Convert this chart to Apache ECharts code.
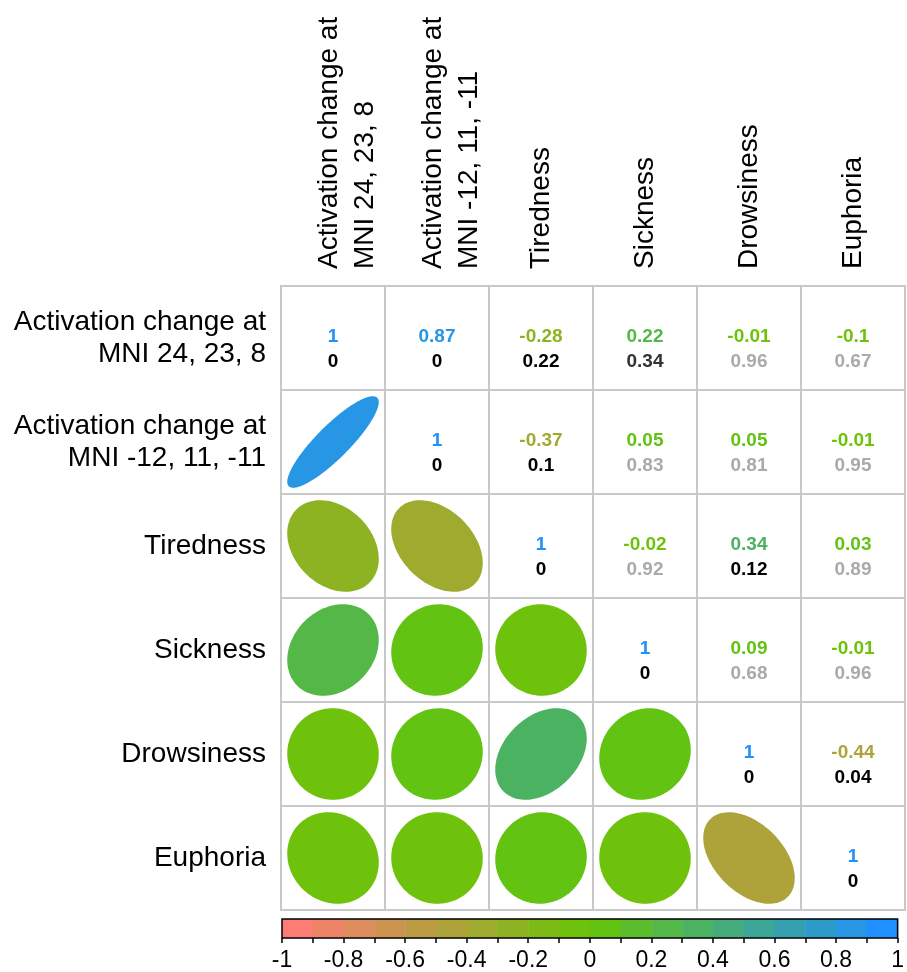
<!DOCTYPE html>
<html><head><meta charset="utf-8">
<script src="https://cdn.jsdelivr.net/npm/echarts@6/dist/echarts.min.js"></script>
<style>html,body{margin:0;padding:0;background:#fff}#c{width:907px;height:972px}</style>
</head><body><div id="c"></div><script>
const variables = ['Activation change at\nMNI 24, 23, 8', 'Activation change at\nMNI -12, 11, -11', 'Tiredness', 'Sickness', 'Drowsiness', 'Euphoria'];
// correlation coefficients, one row per variable
const corrAct1       = [1, 0.87, -0.28, 0.22, -0.01, -0.1];
const corrAct2       = [0.87, 1, -0.37, 0.05, 0.05, -0.01];
const corrTiredness  = [-0.28, -0.37, 1, -0.02, 0.34, 0.03];
const corrSickness   = [0.22, 0.05, -0.02, 1, 0.09, -0.01];
const corrDrowsiness = [-0.01, 0.05, 0.34, 0.09, 1, -0.44];
const corrEuphoria   = [-0.1, -0.01, 0.03, -0.01, -0.44, 1];
// p-values, one row per variable
const pAct1       = [0, 0, 0.22, 0.34, 0.96, 0.67];
const pAct2       = [0, 0, 0.1, 0.83, 0.81, 0.95];
const pTiredness  = [0.22, 0.1, 0, 0.92, 0.12, 0.89];
const pSickness   = [0.34, 0.83, 0.92, 0, 0.68, 0.96];
const pDrowsiness = [0.96, 0.81, 0.12, 0.68, 0, 0.04];
const pEuphoria   = [0.67, 0.95, 0.89, 0.96, 0.04, 0];
// colour bar
const colorbarBins = [-1, -0.9, -0.8, -0.7, -0.6, -0.5, -0.4, -0.3, -0.2, -0.1, 0, 0.1, 0.2, 0.3, 0.4, 0.5, 0.6, 0.7, 0.8, 0.9];
const colorbarTickLabels = ['-1', '-0.8', '-0.6', '-0.4', '-0.2', '0', '0.2', '0.4', '0.6', '0.8', '1'];

const corr = [corrAct1, corrAct2, corrTiredness, corrSickness, corrDrowsiness, corrEuphoria];
const pval = [pAct1, pAct2, pTiredness, pSickness, pDrowsiness, pEuphoria];

// palette: red -> green -> blue, 20 discrete colours (one per colour-bar bin)
const cNeg = [253, 124, 116], cZero = [102, 198, 5], cPos = [30, 144, 255];
function ramp(u) {
  const a = u < 0.5 ? cNeg : cPos, t = Math.abs(u - 0.5) / 0.5;
  const c = [0, 1, 2].map(k => Math.round(cZero[k] + (a[k] - cZero[k]) * t));
  return 'rgb(' + c.join(',') + ')';
}
const NBIN = colorbarBins.length;
function binOf(r) {
  return Math.max(0, Math.min(NBIN - 1, Math.floor((r + 1) / 2 * NBIN + 1e-9)));
}
function corrColor(r) { return ramp(binOf(r) / (NBIN - 1)); }
function pColor(p) {
  if (p < 0.3) return '#000';
  if (p < 0.5) return '#333';
  return '#aaa';
}

const cells = [];
for (let j = 0; j < variables.length; j++)
  for (let i = 0; i < variables.length; i++) cells.push([i, j]);

const FONT = '"Liberation Sans", Arial, sans-serif';

function renderCell(params, api) {
  const i = api.value(0), j = api.value(1);
  const c = api.coord([i, j]);
  const s = api.size([1, 1]);
  const w = s[0], h = s[1];
  const children = [{
    type: 'rect', z2: 1,
    shape: { x: c[0] - w / 2, y: c[1] - h / 2, width: w, height: h },
    style: { fill: null, stroke: '#c8c8c8', lineWidth: 2 }
  }];
  const r = corr[j][i];
  if (i < j) {
    const d = Math.acos(r);
    const rad = 0.44 * Math.min(w, h);
    const pts = [];
    for (let k = 0; k < 120; k++) {
      const t = 2 * Math.PI * k / 120;
      pts.push([c[0] + rad * Math.cos(t + d / 2), c[1] - rad * Math.cos(t - d / 2)]);
    }
    children.push({ type: 'polygon', shape: { points: pts }, style: { fill: corrColor(r) } });
  } else {
    const p = pval[j][i];
    children.push({
      type: 'text', x: c[0], y: c[1] - 1.5,
      style: { text: String(r), fill: corrColor(r), fontSize: 19, fontWeight: 'bold', fontFamily: FONT, align: 'center', verticalAlign: 'middle' }
    });
    children.push({
      type: 'text', x: c[0], y: c[1] + 24,
      style: { text: String(p), fill: pColor(p), fontSize: 19, fontWeight: 'bold', fontFamily: FONT, align: 'center', verticalAlign: 'middle' }
    });
  }
  return { type: 'group', children };
}

function renderBin(params, api) {
  const v = api.value(0);
  const p0 = api.coord([v, 1]);
  const p1 = api.coord([v + 0.1, 0]);
  return {
    type: 'rect',
    shape: { x: p0[0], y: p0[1], width: p1[0] - p0[0] + 0.5, height: p1[1] - p0[1] },
    style: { fill: ramp(params.dataIndex / (NBIN - 1)) }
  };
}
function renderBorder(params, api) {
  const p0 = api.coord([-1, 1]);
  const p1 = api.coord([1, 0]);
  return {
    type: 'rect', z2: 10,
    shape: { x: p0[0], y: p0[1], width: p1[0] - p0[0], height: p1[1] - p0[1] },
    style: { fill: null, stroke: '#000', lineWidth: 1.5 }
  };
}

const chart = echarts.init(document.getElementById('c'), null, { renderer: 'canvas' });
chart.setOption({
  backgroundColor: '#fff',
  animation: false,
  grid: [
    { left: 281, top: 286, width: 624, height: 624 },
    { left: 282, top: 919, width: 623, height: 21 }
  ],
  xAxis: [
    {
      type: 'category', gridIndex: 0, data: variables, position: 'top',
      axisLine: { show: false }, axisTick: { show: false }, splitLine: { show: false },
      axisLabel: {
        rotate: -90, margin: 17, color: '#000', fontFamily: FONT, interval: 0,
        formatter: v => {
          const ls = v.split('\n');
          return ls.length > 1 ? '{e| }\n' + ls.map(l => '{b|' + l + '}').join('\n') : '{b|' + v + '}';
        },
        rich: {
          e: { fontSize: 2, lineHeight: 28, fontFamily: FONT, color: '#000' },
          b: { fontSize: 28, lineHeight: 36, fontFamily: FONT, color: '#000' }
        }
      }
    },
    {
      type: 'value', gridIndex: 1, min: -1, max: 1, interval: 0.2, position: 'bottom',
      axisLine: { show: false }, splitLine: { show: false },
      axisTick: { show: true, length: 5, lineStyle: { color: '#000', width: 1.5 } },
      minorTick: { show: true, splitNumber: 2, length: 5, lineStyle: { color: '#000', width: 1.5 } },
      axisLabel: {
        margin: 11, fontSize: 23, color: '#000', fontFamily: FONT, showMinLabel: true, showMaxLabel: true,
        formatter: v => colorbarTickLabels[Math.round((v + 1) * 5)]
      }
    }
  ],
  yAxis: [
    {
      type: 'category', gridIndex: 0, data: variables, inverse: true,
      axisLine: { show: false }, axisTick: { show: false }, splitLine: { show: false },
      axisLabel: { margin: 15, fontSize: 28, lineHeight: 32, color: '#000', fontFamily: FONT, align: 'right', interval: 0 }
    },
    { type: 'value', gridIndex: 1, min: 0, max: 1, show: false }
  ],
  series: [
    { type: 'custom', xAxisIndex: 0, yAxisIndex: 0, data: cells, renderItem: renderCell, silent: true },
    { type: 'custom', xAxisIndex: 1, yAxisIndex: 1, data: colorbarBins.map(v => [v]), renderItem: renderBin, silent: true },
    { type: 'custom', xAxisIndex: 1, yAxisIndex: 1, data: [[-1]], renderItem: renderBorder, silent: true, z: 5 }
  ]
});
</script></body></html>
